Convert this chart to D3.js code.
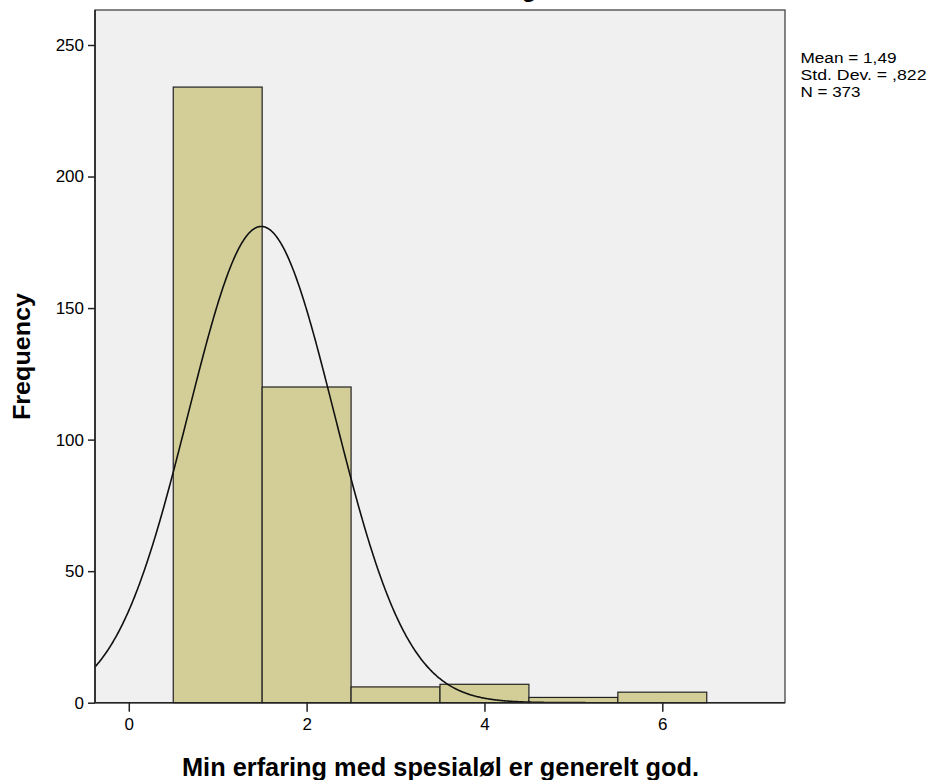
<!DOCTYPE html>
<html>
<head>
<meta charset="utf-8">
<script src="https://cdn.jsdelivr.net/npm/d3@7"></script>
<style>
  html, body { margin: 0; padding: 0; background: #ffffff; }
  svg { display: block; }
  text { font-family: "Liberation Sans", Arial, sans-serif; fill: #000; }
</style>
</head>
<body>
<svg id="chart" width="932" height="780"></svg>
<script>
// ---- data ----
const binStarts = [0.5, 1.5, 2.5, 3.5, 4.5, 5.5];
const binEnds   = [1.5, 2.5, 3.5, 4.5, 5.5, 6.5];
const counts    = [234, 120, 6, 7, 2, 4];
const xTicks = [0, 2, 4, 6];
const yTicks = [0, 50, 100, 150, 200, 250];
const statsLines = ["Mean = 1,49", "Std. Dev. = ,822", "N = 373"];
const statMean = 1.49, statSd = 0.822, statN = 373, binWidth = 1;
const xLabel = "Min erfaring med spesialøl er generelt god.";
const yLabel = "Frequency";
const title = "Histogram";

// ---- layout ----
const svg = d3.select("#chart");
const L = 95, R = 785, T = 10, B = 702.7;
const x = d3.scaleLinear().domain([-0.38, 7.38]).range([L, R]);
const y = d3.scaleLinear().domain([0, 263.3]).range([B, T]);

// title (cut off at top in reference)
svg.append("text").attr("x", 521).attr("y", -3)
  .attr("text-anchor", "middle").attr("font-size", 24).attr("font-weight", "bold")
  .text(title);

// plot background
svg.append("rect").attr("x", L).attr("y", T).attr("width", R - L).attr("height", B - T)
  .attr("fill", "#f0f0f0");

svg.append("defs").append("clipPath").attr("id", "clip")
  .append("rect").attr("x", L).attr("y", T).attr("width", R - L).attr("height", B - T);

// bars
svg.append("g").selectAll("rect").data(counts).join("rect")
  .attr("x", (d, i) => x(binStarts[i]))
  .attr("width", (d, i) => x(binEnds[i]) - x(binStarts[i]))
  .attr("y", d => y(d))
  .attr("height", d => y(0) - y(d))
  .attr("fill", "#d3ce97")
  .attr("stroke", "#222")
  .attr("stroke-width", 1.2);

// normal curve from the reported statistics
const pdf = v => statN * binWidth / (statSd * Math.sqrt(2 * Math.PI)) *
  Math.exp(-0.5 * Math.pow((v - statMean) / statSd, 2));
const xs = d3.range(-0.38, 7.3801, 0.01);
svg.append("path").datum(xs)
  .attr("clip-path", "url(#clip)")
  .attr("fill", "none").attr("stroke", "#111").attr("stroke-width", 1.6)
  .attr("d", d3.line().x(v => x(v)).y(v => y(pdf(v))).curve(d3.curveLinear));

// frame
svg.append("rect").attr("x", L).attr("y", T).attr("width", R - L).attr("height", B - T)
  .attr("fill", "none").attr("stroke", "#444").attr("stroke-width", 1.3);
svg.append("line").attr("x1", L).attr("x2", R).attr("y1", B).attr("y2", B)
  .attr("stroke", "#222").attr("stroke-width", 1.6);
svg.append("line").attr("x1", L).attr("x2", L).attr("y1", T).attr("y2", B)
  .attr("stroke", "#222").attr("stroke-width", 1.6);

// y axis
const yAxis = svg.append("g").attr("transform", `translate(${L},0)`)
  .call(d3.axisLeft(y).tickValues(yTicks).tickSize(7).tickPadding(4).tickFormat(d3.format("d")));
yAxis.select(".domain").remove();
yAxis.selectAll(".tick line").attr("stroke", "#222").attr("stroke-width", 1.5);
yAxis.selectAll(".tick text").attr("font-size", 17).attr("fill", "#111")
  .style("font-family", "'Liberation Sans', Arial, sans-serif");

// x axis
const xAxis = svg.append("g").attr("transform", `translate(0,${B})`)
  .call(d3.axisBottom(x).tickValues(xTicks).tickSize(9).tickPadding(6).tickFormat(d3.format("d")));
xAxis.select(".domain").remove();
xAxis.selectAll(".tick line").attr("stroke", "#222").attr("stroke-width", 1.5);
xAxis.selectAll(".tick text").attr("font-size", 17).attr("fill", "#111")
  .style("font-family", "'Liberation Sans', Arial, sans-serif");

// axis titles
svg.append("text").attr("x", 440.5).attr("y", 776)
  .attr("text-anchor", "middle").attr("font-size", 25).attr("font-weight", "bold")
  .attr("textLength", 517).attr("lengthAdjust", "spacingAndGlyphs")
  .text(xLabel);
svg.append("text").attr("transform", "translate(30,356.5) rotate(-90)")
  .attr("text-anchor", "middle").attr("font-size", 23).attr("font-weight", "bold")
  .attr("textLength", 127).attr("lengthAdjust", "spacingAndGlyphs")
  .text(yLabel);

// statistics box text
const statWidths = [96, 126, 60];
svg.append("g").selectAll("text").data(statsLines).join("text")
  .attr("x", 800.5).attr("y", (d, i) => 63.3 + i * 17)
  .attr("font-size", 15.5)
  .attr("textLength", (d, i) => statWidths[i]).attr("lengthAdjust", "spacingAndGlyphs")
  .text(d => d);
</script>
</body>
</html>
